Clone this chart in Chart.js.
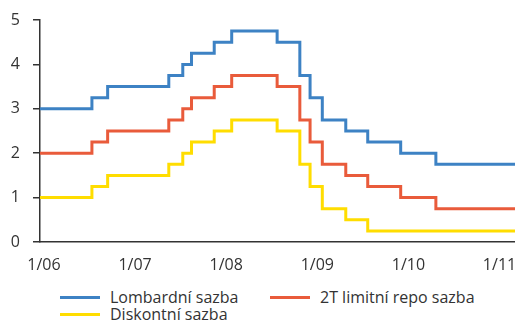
<!DOCTYPE html>
<html>
<head>
<meta charset="utf-8">
<script src="https://cdn.jsdelivr.net/npm/chart.js@4"></script>
<style>
  html, body { margin: 0; padding: 0; background: #fff; }
  #wrap { position: relative; width: 515px; height: 322px; font-family: "Open Sans", sans-serif; }
  #box { position: absolute; left: 0; top: 0; width: 515px; height: 282px; }
  #legend { position: absolute; left: 60px; top: 289px; display: grid; grid-template-columns: 210px auto; row-gap: 0; font-size: 16px; line-height: 17px; color: #333; }
  .item { display: flex; align-items: center; white-space: nowrap; }
  .swatch { width: 40px; height: 3px; margin-right: 10px; }
</style>
</head>
<body>
<div id="wrap">
  <div id="box"><canvas id="chart"></canvas></div>
  <div id="legend"></div>
</div>
<script>
// dates where the CNB rates changed (last entry = end of the plotted period)
var changeDates = ['2006-01-01', '2006-07-28', '2006-09-29', '2007-06-01', '2007-07-27', '2007-08-31',
    '2007-11-30', '2008-02-08', '2008-08-08', '2008-11-07', '2008-12-18', '2009-02-06',
    '2009-05-11', '2009-08-07', '2009-12-17', '2010-05-07', '2011-03-20'];
var lombardRate = [3.00, 3.25, 3.50, 3.75, 4.00, 4.25, 4.50, 4.75, 4.50, 3.75, 3.25, 2.75, 2.50, 2.25, 2.00, 1.75, 1.75];
var repoRate = [2.00, 2.25, 2.50, 2.75, 3.00, 3.25, 3.50, 3.75, 3.50, 2.75, 2.25, 1.75, 1.50, 1.25, 1.00, 0.75, 0.75];
var discountRate = [1.00, 1.25, 1.50, 1.75, 2.00, 2.25, 2.50, 2.75, 2.50, 1.75, 1.25, 0.75, 0.50, 0.25, 0.25, 0.25, 0.25];
var yearTicks = [2006, 2007, 2008, 2009, 2010, 2011];
var seriesNames = ['Lombardní sazba', '2T limitní repo sazba', 'Diskontní sazba'];
var seriesColors = ['#3d82c4', '#e95b3b', '#ffdd00'];

function toYear(d) {
    var t = new Date(d + 'T00:00:00Z');
    var start = Date.UTC(t.getUTCFullYear(), 0, 1);
    return t.getUTCFullYear() + (t - start) / (365 * 86400000);
}

function toPoints(values) {
    return values.map(function (v, i) {
        return { x: toYear(changeDates[i]), y: v };
    });
}

var allRates = [lombardRate, repoRate, discountRate];

var datasets = allRates.map(function (vals, i) {
    return {
        label: seriesNames[i],
        data: toPoints(vals),
        borderColor: seriesColors[i],
        backgroundColor: seriesColors[i],
        borderWidth: 3,
        pointRadius: 0,
        stepped: true,
        fill: false
    };
});

// no extra room for half-labels at the ends, the reference lets them sit on the edge
function noEdgePadding(scale) {
    scale.paddingLeft = 0;
    scale.paddingRight = 0;
    scale.paddingTop = 0;
    scale.paddingBottom = 0;
}

var ctx = document.getElementById('chart').getContext('2d');
var chart = new Chart(ctx, {
    type: 'line',
    data: { datasets: datasets },
    options: {
        responsive: true,
        maintainAspectRatio: false,
        animation: false,
        layout: { padding: { top: 20, right: 0, left: 0, bottom: 0 } },
        plugins: {
            legend: { display: false },
            tooltip: { enabled: false }
        },
        scales: {
            x: {
                type: 'linear',
                min: 2006,
                max: toYear(changeDates[changeDates.length - 1]),
                grid: { display: false, drawTicks: false },
                border: { color: '#333', width: 1.5 },
                afterBuildTicks: function (scale) {
                    scale.ticks = yearTicks.map(function (v) { return { value: v }; });
                },
                afterFit: function (scale) {
                    scale.height = 40;
                    noEdgePadding(scale);
                },
                ticks: {
                    padding: 14,
                    labelOffset: 4,
                    maxRotation: 0,
                    color: '#333',
                    font: { family: 'Open Sans', size: 16 },
                    callback: function (v) { return '1/' + String(v).slice(2); }
                }
            },
            y: {
                min: 0,
                max: 5,
                grid: { drawOnChartArea: false, drawTicks: true, tickLength: 7, color: '#333', lineWidth: 1.5 },
                border: { color: '#333', width: 1.5 },
                afterFit: function (scale) {
                    scale.width = 40;
                    noEdgePadding(scale);
                },
                ticks: {
                    stepSize: 1,
                    padding: 13,
                    color: '#333',
                    font: { family: 'Open Sans', size: 16 }
                }
            }
        }
    }
});

// legend drawn as html below the chart
var legend = document.getElementById('legend');
seriesNames.forEach(function (name, i) {
    var item = document.createElement('div');
    item.className = 'item';
    item.innerHTML = '<span class="swatch" style="background:' + seriesColors[i] + '"></span>' + name;
    legend.appendChild(item);
});
</script>
</body>
</html>
